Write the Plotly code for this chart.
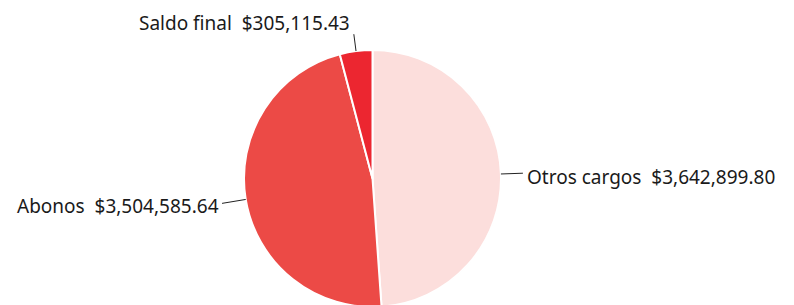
import math
import plotly.graph_objects as go

labels = ["Otros cargos", "Abonos", "Saldo final"]
values = [3642899.80, 3504585.64, 305115.43]
colors = ["#FCDEDC", "#EC4A46", "#EC2630"]

W, H = 794, 305
# pie bounding box in figure pixels
box_x = (236, 493)
box_y = (42, 299)
dom_x = [box_x[0] / W, box_x[1] / W]
dom_y = [1 - box_y[1] / H, 1 - box_y[0] / H]

fig = go.Figure(go.Pie(
    labels=labels,
    values=values,
    sort=False,
    direction="clockwise",
    rotation=0,
    marker=dict(colors=colors, line=dict(color="white", width=2)),
    textposition="none",
    showlegend=False,
    hoverinfo="label+value",
    domain=dict(x=dom_x, y=dom_y),
))

# pie geometry in pixels (y downwards)
pw = (dom_x[1] - dom_x[0]) * W
ph = (dom_y[1] - dom_y[0]) * H
r = min(pw, ph) / 2
cx = (dom_x[0] + dom_x[1]) / 2 * W
cy = (1 - (dom_y[0] + dom_y[1]) / 2) * H

# label styling per slice: leader length, anchor, extra shift (px)
leader = [22, 24, 17]
anchors = [("left", "middle", 2, 4), ("right", "middle", -1, 3), ("right", "middle", -2, -11)]

total = sum(values)
cum = 0.0
shapes, annots = [], []
for lab, v, L, (xa, ya, dx, dy) in zip(labels, values, leader, anchors):
    mid = (cum + v / 2) / total * 2 * math.pi
    cum += v
    sx, sy = math.sin(mid), -math.cos(mid)
    x0, y0 = cx + r * sx, cy + r * sy
    x1, y1 = cx + (r + L) * sx, cy + (r + L) * sy
    shapes.append(dict(type="line", xref="paper", yref="paper",
                       x0=x0 / W, y0=1 - y0 / H, x1=x1 / W, y1=1 - y1 / H,
                       line=dict(color="#222222", width=1)))
    txt = f"{lab}\u00a0\u00a0${v:,.2f}"
    annots.append(dict(text=txt, xref="paper", yref="paper",
                       x=(x1 + dx) / W, y=1 - (y1 + dy) / H,
                       xanchor=xa, yanchor=ya, showarrow=False,
                       font=dict(family="Noto Sans", size=19, color="#1a1a1a")))

fig.update_layout(
    width=W, height=H,
    margin=dict(l=0, r=0, t=0, b=0),
    paper_bgcolor="white",
    plot_bgcolor="white",
    shapes=shapes,
    annotations=annots,
)
fig.write_html("out.html")
